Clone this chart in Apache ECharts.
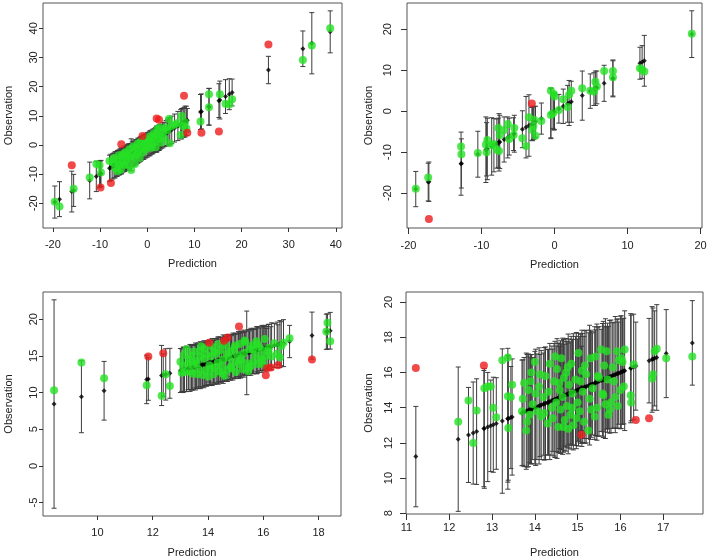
<!DOCTYPE html>
<html>
<head>
<meta charset="utf-8">
<script src="https://cdn.jsdelivr.net/npm/echarts@6/dist/echarts.min.js"></script>
<style>
  html, body { margin: 0; padding: 0; background: #fff; }
  #main { width: 709px; height: 558px; }
</style>
</head>
<body>
<div id="main"></div>
<script>
// panel 1 (top left): prediction, half width of interval, observation
const p1Pred = [-19.6, -18.6, -16.0, -15.6, -12.2, -10.8, -10.1, -9.8, -9.9, -8.0,
  -7.7, -7.3, -7.0, -6.8, -6.5, -6.3, -6.1, -6.0, -5.8, -5.6,
  -5.5, -5.4, -5.2, -5.0, -4.8, -4.6, -4.4, -4.2, -4.0, -3.8,
  -3.6, -3.4, -3.2, -3.0, -2.8, -2.6, -2.4, -2.2, -2.0, -1.8,
  -1.6, -1.4, -1.2, -1.0, -0.9, -0.7, -0.5, -0.3, 0.0, 0.2,
  0.4, 0.6, 0.8, 1.0, 1.2, 1.4, 1.6, 1.8, 2.0, 2.0,
  2.2, 2.4, 2.5, 2.6, 2.8, 3.0, 3.3, 3.6, 4.0, 4.3,
  4.6, 4.8, 5.2, 5.8, 6.5, 7.1, 7.3, 7.6, 7.8, 8.0,
  8.3, 8.5, 11.3, 11.5, 13.1, 13.1, 15.2, 15.4, 16.6, 17.4,
  18.0, 25.7, 33.0, 34.9, 38.8]
const p1Err = [5.5, 6.0, 7.0, 5.5, 6.3, 5.2, 4.6, 4.5, 4.4, 4.5,
  4.5, 4.4, 4.3, 4.5, 4.3, 4.4, 4.2, 4.3, 4.4, 4.2,
  4.5, 4.3, 4.1, 4.2, 4.3, 4.1, 4.2, 4.4, 4.3, 4.2,
  4.1, 5.5, 4.2, 4.3, 4.1, 4.3, 4.2, 4.0, 4.3, 4.1,
  4.2, 4.2, 4.0, 3.8, 4.1, 4.2, 4.0, 4.1, 4.2, 4.0,
  4.1, 4.3, 4.0, 4.1, 4.2, 4.0, 4.1, 4.2, 4.3, 4.5,
  4.2, 4.1, 4.4, 4.3, 4.2, 4.1, 4.3, 4.2, 4.4, 4.5,
  4.6, 4.6, 4.7, 4.8, 5.0, 5.0, 5.2, 5.0, 5.0, 5.3,
  5.0, 4.0, 6.0, 6.0, 6.3, 6.3, 5.8, 6.5, 5.8, 5.3,
  4.6, 4.7, 6.1, 10.5, 7.2]
const p1Obs = [-19.5, -21.1, -7.0, -15.0, -11.2, -6.5, -7.0, -9.5, -14.6, -5.5,
  -13.1, -6.0, -4.5, -8.0, -5.2, -9.0, -7.0, -3.5, -6.5, -8.5,
  0.2, -4.0, -5.8, -3.0, -6.8, -2.5, -5.0, -3.8, -7.0, -1.5,
  -4.5, -8.6, -2.8, -0.5, -4.0, -6.5, -1.0, -3.2, 0.5, -2.0,
  -4.5, 1.0, -0.8, 3.1, -2.5, 0.0, 2.0, -1.5, 0.8, -0.5,
  1.5, 3.0, -1.0, 0.5, 2.5, 4.0, 1.0, -0.8, 3.5, 9.1,
  5.5, 2.0, 8.6, 6.0, 3.0, 0.8, 4.5, 2.5, 6.0, 5.0,
  8.9, 0.6, 6.5, 7.0, 7.5, 3.4, 9.9, 6.5, 16.9, 7.8,
  5.7, 4.2, 8.0, 4.2, 17.4, 12.9, 4.6, 17.4, 14.1, 13.9,
  15.7, 34.5, 29.1, 34.1, 40.0]

// panel 2 (top right)
const p2Pred = [-19.0, -17.3, -17.2, -12.8, -12.75, -10.5, -9.4, -9.2, -9.3, -8.6,
  -8.3, -7.9, -7.7, -7.5, -7.6, -6.9, -6.4, -6.2, -5.5, -5.6,
  -4.4, -3.9, -3.5, -3.1, -2.8, -2.9, -3.0, -2.6, -1.8, -0.5,
  -0.5, 0.0, -0.1, -0.2, 0.6, 1.2, 1.8, 2.0, 2.3, 3.8,
  4.9, 5.4, 5.6, 5.8, 6.8, 8.0, 8.0, 11.7, 12.0, 12.3,
  18.8]
const p2Err = [4.3, 4.6, 4.8, 7.7, 6.0, 5.6, 8.0, 7.5, 6.5, 7.0,
  6.5, 6.0, 6.0, 6.5, 7.0, 5.5, 5.0, 4.5, 4.5, 4.0,
  4.5, 7.5, 7.5, 4.0, 4.0, 4.0, 4.2, 3.8, 3.8, 6.0,
  6.2, 4.5, 4.5, 4.0, 3.5, 4.2, 4.5, 5.5, 5.0, 6.0,
  4.2, 4.0, 4.2, 4.0, 4.4, 4.3, 4.5, 3.9, 4.0, 6.2,
  5.7]
const p2Obs = [-18.9, -16.2, -26.3, -8.6, -10.5, -10.2, -8.2, -7.0, -10.0, -8.3,
  -8.0, -9.4, -4.1, -5.8, -9.7, -4.6, -3.1, -6.8, -4.1, -5.8,
  -6.6, -8.5, -1.5, 1.9, -2.1, -3.6, -4.6, -6.0, -2.4, -0.9,
  5.0, 3.6, 4.2, -0.5, 0.3, 2.9, 1.0, 4.0, 5.0, 5.6,
  5.0, 4.8, 7.2, 6.0, 9.8, 9.8, 8.3, 10.5, 10.1, 9.7,
  18.9]

// panel 3 (bottom left)
const p3Pred = [8.43, 9.42, 10.24, 11.78, 11.84, 12.32, 12.38, 12.47, 12.62, 13.00,
  13.05, 13.10, 13.15, 13.22, 13.30, 13.35, 13.40, 13.45, 13.50, 13.55,
  13.60, 13.65, 13.70, 13.75, 13.80, 13.85, 13.90, 13.95, 14.00, 14.04,
  14.05, 14.10, 14.15, 14.20, 14.25, 14.30, 14.35, 14.40, 14.45, 14.50,
  14.55, 14.58, 14.60, 14.65, 14.70, 14.71, 14.75, 14.80, 14.85, 14.90,
  14.95, 15.00, 15.05, 15.10, 15.12, 15.15, 15.20, 15.25, 15.30, 15.35,
  15.40, 15.45, 15.50, 15.55, 15.60, 15.65, 15.70, 15.75, 15.80, 15.85,
  15.90, 15.95, 16.00, 16.05, 16.09, 16.10, 16.13, 16.20, 16.27, 16.30,
  16.40, 16.50, 16.53, 16.60, 16.65, 16.73, 16.95, 17.76, 18.28, 18.32,
  18.42, 13.12, 13.28, 13.42, 13.58, 13.72, 13.88, 14.08, 14.22, 14.38,
  14.52, 14.68, 14.82, 14.98, 15.18, 15.32, 15.48, 15.62, 15.78, 15.98,
  16.18]
const p3Err = [14.2, 4.9, 4.0, 3.3, 2.9, 4.1, 2.9, 3.5, 3.4, 3.0,
  2.9, 3.1, 3.0, 3.1, 2.9, 3.2, 3.0, 3.1, 2.9, 3.2,
  3.0, 3.1, 2.9, 3.1, 3.0, 3.2, 3.0, 3.1, 2.9, 2.6,
  3.1, 3.0, 3.2, 2.9, 3.1, 3.0, 3.2, 2.9, 3.1, 3.0,
  3.3, 2.3, 3.1, 3.0, 3.2, 2.5, 3.0, 3.1, 2.9, 3.2,
  3.0, 3.1, 2.9, 3.2, 3.0, 3.0, 3.1, 2.9, 3.2, 3.0,
  5.7, 3.1, 2.9, 3.2, 3.0, 3.1, 2.9, 3.2, 3.0, 3.1,
  2.9, 3.2, 3.0, 3.1, 2.7, 2.9, 2.6, 3.1, 2.7, 3.2,
  3.0, 3.1, 2.7, 3.2, 3.0, 3.2, 2.2, 3.2, 2.4, 2.4,
  2.5, 3.0, 2.9, 3.1, 3.0, 3.2, 2.9, 3.0, 3.1, 3.2,
  3.0, 2.9, 3.1, 3.0, 3.2, 2.9, 3.1, 3.0, 3.2, 3.0,
  3.1]
const p3Obs = [10.3, 14.1, 11.95, 11.0, 14.9, 9.55, 15.36, 12.5, 10.9, 14.2,
  12.7, 13.6, 12.8, 15.9, 14.6, 12.9, 15.0, 13.8, 15.6, 14.3,
  12.5, 13.2, 14.9, 16.3, 12.4, 14.6, 13.0, 15.2, 12.2, 16.8,
  13.7, 14.9, 16.2, 12.5, 13.4, 15.3, 14.1, 12.9, 15.8, 13.6,
  14.5, 17.05, 12.3, 16.4, 13.1, 17.5, 14.8, 15.6, 13.3, 14.2,
  16.0, 12.8, 15.1, 13.9, 19.0, 16.6, 14.6, 13.2, 15.4, 16.9,
  14.0, 12.9, 15.9, 13.6, 16.4, 14.3, 15.2, 17.0, 13.9, 16.2,
  14.7, 15.8, 13.8, 17.3, 12.35, 15.0, 13.3, 16.1, 13.4, 14.9,
  16.7, 15.3, 13.7, 14.8, 16.3, 16.8, 17.4, 14.5, 18.3, 19.5,
  17.0, 15.1, 13.9, 12.6, 14.0, 15.7, 16.0, 13.2, 15.6, 16.6,
  12.6, 15.3, 13.5, 16.4, 14.3, 17.1, 13.4, 15.9, 16.6, 14.4,
  15.6]

// panel 4 (bottom right)
const p4Pred = [11.22, 12.21, 12.45, 12.56, 12.64, 12.81, 12.82, 12.90, 12.97, 13.03,
  13.10, 13.24, 13.37, 13.37, 13.44, 13.38, 13.47, 13.70, 13.75, 13.80,
  13.85, 13.88, 13.90, 13.95, 14.00, 14.05, 14.10, 14.15, 14.20, 14.25,
  14.30, 14.35, 14.40, 14.42, 14.45, 14.50, 14.52, 14.55, 14.58, 14.60,
  14.62, 14.65, 14.68, 14.70, 14.73, 14.75, 14.78, 14.80, 14.83, 14.85,
  14.88, 14.90, 14.95, 15.00, 15.02, 15.05, 15.09, 15.10, 15.12, 15.15,
  15.20, 15.25, 15.28, 15.30, 15.35, 15.40, 15.42, 15.45, 15.50, 15.55,
  15.58, 15.62, 15.65, 15.70, 15.72, 15.78, 15.82, 15.88, 15.92, 15.96,
  16.00, 16.05, 16.10, 16.24, 16.25, 16.31, 16.36, 16.67, 16.74, 16.76,
  16.80, 16.85, 17.07, 17.68, 13.72, 13.82, 13.92, 14.02, 14.12, 14.22,
  14.32, 14.47, 14.57, 14.67, 14.77, 14.87, 14.97, 15.07, 15.17, 15.32,
  15.47, 15.60, 15.68, 15.75, 15.85, 15.94, 16.02, 16.08]
const p4Err = [2.85, 4.1, 2.7, 2.9, 3.0, 3.3, 3.4, 3.1, 2.6, 2.7,
  2.6, 4.1, 4.0, 3.6, 2.9, 3.5, 3.3, 3.0, 3.1, 3.3,
  3.2, 3.0, 3.1, 2.9, 3.2, 3.0, 3.3, 3.1, 2.9, 3.2,
  3.0, 3.3, 3.1, 2.9, 3.2, 3.0, 3.4, 3.1, 2.9, 3.2,
  3.0, 3.3, 3.1, 2.9, 3.2, 3.0, 3.4, 3.1, 2.9, 3.2,
  3.0, 3.3, 3.1, 2.9, 3.2, 3.0, 2.4, 3.3, 3.1, 2.9,
  3.2, 3.0, 3.4, 3.1, 2.9, 3.2, 3.0, 3.3, 3.1, 2.9,
  3.2, 3.0, 3.4, 3.1, 2.9, 3.2, 3.0, 3.3, 3.1, 2.9,
  3.2, 3.0, 3.4, 3.1, 3.0, 3.0, 2.5, 2.4, 3.0, 2.9,
  2.7, 3.0, 2.5, 2.4, 3.0, 3.2, 3.1, 3.3, 2.9, 3.2,
  3.0, 3.3, 3.1, 3.2, 2.9, 3.0, 3.3, 3.1, 3.2, 3.0,
  3.1, 3.3, 2.9, 3.2, 3.0, 3.1, 3.2, 3.0]
const p4Obs = [16.26, 13.2, 14.4, 12.0, 13.84, 16.4, 15.1, 15.2, 15.2, 14.0,
  13.45, 16.7, 16.85, 14.65, 14.6, 12.85, 15.3, 13.8, 15.4, 12.7,
  15.0, 13.6, 15.5, 14.2, 16.6, 13.8, 15.2, 13.5, 14.6, 15.8,
  13.1, 16.5, 14.0, 13.4, 15.5, 14.3, 16.2, 12.9, 15.0, 13.9,
  16.8, 14.6, 15.7, 13.3, 16.0, 14.1, 12.8, 15.3, 13.6, 16.5,
  14.8, 13.0, 15.6, 14.3, 17.1, 13.8, 12.46, 16.1, 14.9, 13.2,
  15.9, 12.7, 14.5, 16.8, 15.1, 13.5, 16.9, 14.0, 15.7, 17.3,
  14.8, 16.4, 14.2, 15.6, 13.6, 14.3, 16.3, 14.6, 17.2, 16.7,
  15.0, 16.6, 17.3, 14.7, 14.3, 16.45, 13.3, 13.4, 15.65, 15.9,
  17.2, 17.35, 16.8, 16.9, 14.5, 13.2, 16.0, 14.8, 15.9, 13.7,
  14.9, 16.9, 15.4, 12.9, 16.3, 14.0, 13.4, 15.5, 16.4, 13.9,
  15.8, 14.7, 17.2, 13.9, 15.5, 14.1, 16.8, 15.2]

// tick labels
const p1XTicks = [-20, -10, 0, 10, 20, 30, 40]
const p1YTicks = [-20, -10, 0, 10, 20, 30, 40]
const p2XTicks = [-20, -10, 0, 10, 20]
const p2YTicks = [-20, -10, 0, 10, 20]
const p3XTicks = [10, 12, 14, 16, 18]
const p3YTicks = [-5, 0, 5, 10, 15, 20]
const p4XTicks = [11, 12, 13, 14, 15, 16, 17]
const p4YTicks = [8, 10, 12, 14, 16, 18, 20]

const panels = [
  { pred: p1Pred, err: p1Err, obs: p1Obs, xTicks: p1XTicks, yTicks: p1YTicks, x: [-22.1, 41.3], y: [-28.5, 48.7] },
  { pred: p2Pred, err: p2Err, obs: p2Obs, xTicks: p2XTicks, yTicks: p2YTicks, x: [-20.2, 20.2], y: [-28.5, 26.4] },
  { pred: p3Pred, err: p3Err, obs: p3Obs, xTicks: p3XTicks, yTicks: p3YTicks, x: [8.03, 18.81], y: [-6.83, 23.7] },
  { pred: p4Pred, err: p4Err, obs: p4Obs, xTicks: p4XTicks, yTicks: p4YTicks, x: [10.99, 17.93], y: [7.96, 20.57] }
]

// box position plus label / name offsets of each panel
const layouts = [
  { box: { left: 43, top: 3, width: 299, height: 225 }, xMargin: 11, xGap: 30, yMargin: 4, yGap: 29, tick: 4 },
  { box: { left: 407, top: 3, width: 295, height: 225 }, xMargin: 12, xGap: 31, yMargin: 14, yGap: 33, tick: 6 },
  { box: { left: 43, top: 292, width: 298, height: 224 }, xMargin: 11, xGap: 31, yMargin: 4, yGap: 29, tick: 4 },
  { box: { left: 406, top: 292, width: 297, height: 222 }, xMargin: 8, xGap: 33, yMargin: 12, yGap: 32, tick: 6 }
]

const font = 'Liberation Sans, Arial, sans-serif'
const textColor = '#222'

function renderErrorBar(params, api) {
  const x = api.value(0)
  const top = api.coord([x, api.value(2)])
  const bot = api.coord([x, api.value(1)])
  const w = 2.5
  const style = { stroke: '#3c3c3c', lineWidth: 1 }
  return {
    type: 'group',
    children: [
      { type: 'line', shape: { x1: top[0], y1: top[1], x2: bot[0], y2: bot[1] }, style },
      { type: 'line', shape: { x1: top[0] - w, y1: top[1], x2: top[0] + w, y2: top[1] }, style },
      { type: 'line', shape: { x1: bot[0] - w, y1: bot[1], x2: bot[0] + w, y2: bot[1] }, style }
    ]
  }
}

function axisFor(i, range, ticks, name, margin, gap, tick, isY) {
  return {
    type: 'value',
    gridIndex: i,
    min: range[0],
    max: range[1],
    name: name,
    nameLocation: 'middle',
    nameGap: gap,
    nameTextStyle: { color: textColor, fontSize: 11, fontFamily: font },
    axisLine: { show: false, onZero: false },
    splitLine: { show: false },
    axisTick: { show: true, length: tick, customValues: ticks, lineStyle: { color: '#333' } },
    axisLabel: {
      customValues: ticks,
      rotate: isY ? 90 : 0,
      margin: margin,
      color: textColor,
      fontSize: 11,
      fontFamily: font
    }
  }
}

const grid = []
const xAxis = []
const yAxis = []
const series = []

panels.forEach((p, i) => {
  const l = layouts[i]
  grid.push(Object.assign({ show: true, borderColor: '#555', borderWidth: 1, outerBoundsMode: 'none' }, l.box))
  xAxis.push(axisFor(i, p.x, p.xTicks, 'Prediction', l.xMargin, l.xGap, l.tick, false))
  yAxis.push(axisFor(i, p.y, p.yTicks, 'Observation', l.yMargin, l.yGap, l.tick, true))

  const bars = p.pred.map((v, k) => [v, v - p.err[k], v + p.err[k]])
  const means = p.pred.map(v => [v, v])
  const inside = []
  const outside = []
  p.pred.forEach((v, k) => {
    const pt = [v, p.obs[k]]
    if (Math.abs(p.obs[k] - v) <= p.err[k]) inside.push(pt)
    else outside.push(pt)
  })

  series.push({
    type: 'custom',
    xAxisIndex: i,
    yAxisIndex: i,
    renderItem: renderErrorBar,
    encode: { x: 0, y: [1, 2] },
    data: bars,
    z: 1,
    silent: true
  })
  series.push({
    type: 'scatter',
    xAxisIndex: i,
    yAxisIndex: i,
    symbol: 'diamond',
    symbolSize: 5,
    itemStyle: { color: '#000' },
    data: means,
    z: 2,
    silent: true
  })
  series.push({
    type: 'scatter',
    xAxisIndex: i,
    yAxisIndex: i,
    symbolSize: 8,
    itemStyle: { color: '#25e125' },
    data: inside,
    z: 3,
    silent: true
  })
  series.push({
    type: 'scatter',
    xAxisIndex: i,
    yAxisIndex: i,
    symbolSize: 8,
    itemStyle: { color: '#ee1c1c' },
    data: outside,
    z: 4,
    silent: true
  })
})

const chart = echarts.init(document.getElementById('main'))
chart.setOption({
  backgroundColor: '#fff',
  animation: false,
  grid,
  xAxis,
  yAxis,
  series
})
</script>
</body>
</html>
